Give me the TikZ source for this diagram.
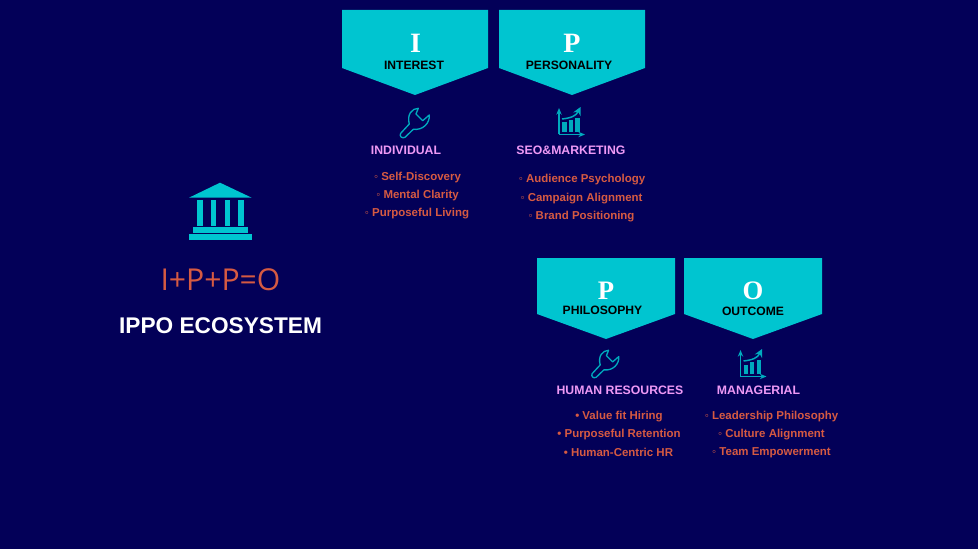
\documentclass[tikz,border=0pt]{standalone}
\usepackage{fontspec}
\usepackage{xcolor}
\setmainfont{Liberation Sans}
\newfontfamily\letterfont{Liberation Serif}
\newfontfamily\formulafont{Open Sans}
\definecolor{deepnavy}{RGB}{3, 0, 88}
\definecolor{bannerteal}{RGB}{0, 197, 208}
\definecolor{icontile}{RGB}{0, 170, 190}
\definecolor{labelpink}{RGB}{238, 153, 245}
\definecolor{itemorange}{RGB}{214, 90, 66}
\usetikzlibrary{arrows.meta}

\begin{document}
\begin{tikzpicture}[
    x=0.75pt,y=-0.75pt,
    banner/.style={fill=bannerteal},
    letter/.style={font=\letterfont\fontsize{21}{22}\selectfont\bfseries,text=white,inner sep=0pt},
    smallletter/.style={font=\letterfont\fontsize{20}{21}\selectfont\bfseries,text=white,inner sep=0pt},
    word/.style={font=\fontsize{9.1}{11}\selectfont\bfseries,text=black,inner sep=0pt},
    area/.style={font=\fontsize{9.2}{11}\selectfont\bfseries,text=labelpink,inner sep=0pt},
    item/.style={font=\fontsize{8.6}{10}\selectfont\bfseries,text=itemorange,inner sep=0pt,text height=8.4pt,text depth=2pt},
    wrench/.pic={
        \draw[icontile,line width=1pt,line join=round]
            (3.3,-14.7) -- (1,-9) -- (7.7,-2.3) -- (14.3,-8)
            .. controls (15,0) and (8,7.5) .. (-1.7,6.3)
            -- (-10,14.3) .. controls (-13,16) and (-16,13) .. (-14.3,10.3)
            -- (-5.7,1) .. controls (-8.3,-8) and (-3.3,-14.7) .. cycle;
    },
    chart/.pic={
        \draw[icontile,line width=1.1pt,-{Stealth[length=5pt,width=4pt]}] (-12,12.5) -- (-12,-14);
        \draw[icontile,line width=1.1pt,-{Stealth[length=5pt,width=4pt]}] (-12,12.5) -- (14,12.5);
        \fill[icontile] (-9,10) rectangle (-4.5,0.5);
        \fill[icontile] (-2.5,10) rectangle (1.5,-2);
        \fill[icontile] (4,10) rectangle (8.5,-4);
        \draw[icontile,line width=1.1pt,-{Stealth[length=6pt,width=6pt]}] (-9,-3) .. controls (0,-4) and (5,-6) .. (9.5,-15);
    }
]
    % Background
    \fill[deepnavy] (0,0) rectangle (978,549);
    \useasboundingbox (0,0) rectangle (978,549);

    % Temple
    \fill[bannerteal] (220,182.7) -- (251.7,197.7) -- (189,197.7) -- cycle;
    \fill[bannerteal] (197.3,200) rectangle (202.7,225.7);
    \fill[bannerteal] (211,200) rectangle (216.3,225.7);
    \fill[bannerteal] (224.7,200) rectangle (230,225.7);
    \fill[bannerteal] (238.3,200) rectangle (244,225.7);
    \fill[bannerteal] (193.3,227) rectangle (247.7,232.7);
    \fill[bannerteal] (189,234) rectangle (251.7,240);

    \node[font=\formulafont\fontsize{22.6}{24}\selectfont,text=itemorange,inner sep=0pt] (formula) at (220.5,280) {I+P+P=O};
    \node[font=\fontsize{17}{20}\selectfont\bfseries,text=white,inner sep=0pt] (title) at (220.5,326) {IPPO ECOSYSTEM};

    % Interest
    \fill[banner] (342,10) -- (488,10) -- (488,68) -- (415,95) -- (342,68) -- cycle;
    \node[letter] (letterI) at (415.5,43.5) {I};
    \node[word] (interest) at (414,65) {INTEREST};
    \pic at (415,123) {wrench};
    \node[area] (individual) at (406,150.5) {INDIVIDUAL};
    \node[item] (selfdisc) at (417.5,176) {◦ Self-Discovery};
    \node[item] (mental) at (417.5,194) {◦ Mental Clarity};
    \node[item] (living) at (417,212.5) {◦ Purposeful Living};

    % Personality
    \fill[banner] (499,10) -- (645,10) -- (645,68) -- (572,95) -- (499,68) -- cycle;
    \node[letter] (letterP) at (572,43) {P};
    \node[word] (personality) at (569,65) {PERSONALITY};
    \pic at (571,122) {chart};
    \node[area] (seo) at (571,150.5) {SEO\&MARKETING};
    \node[item] (audience) at (582,178) {◦ Audience Psychology};
    \node[item] (campaign) at (581.5,197) {◦ Campaign Alignment};
    \node[item] (brand) at (581.5,215) {◦ Brand Positioning};

    % Philosophy
    \fill[banner] (537,258) -- (675,258) -- (675,314) -- (606,339) -- (537,314) -- cycle;
    \node[smallletter] (letterPh) at (606,290.5) {P};
    \node[word] (philosophy) at (602.5,310) {PHILOSOPHY};
    \pic[scale=0.93] at (605.5,364) {wrench};
    \node[area] (human) at (620,390.5) {HUMAN RESOURCES};
    \node[item] (value) at (619,415) {• Value fit Hiring};
    \node[item] (retention) at (619,433) {• Purposeful Retention};
    \node[item] (centric) at (618.5,452) {• Human-Centric HR};

    % Outcome
    \fill[banner] (684,258) -- (822,258) -- (822,314) -- (753,339) -- (684,314) -- cycle;
    \node[smallletter] (letterO) at (753,290.5) {O};
    \node[word] (outcome) at (753,311) {OUTCOME};
    \pic at (752.5,364) {chart};
    \node[area] (managerial) at (758.5,390.5) {MANAGERIAL};
    \node[item] (leadership) at (771.5,415) {◦ Leadership Philosophy};
    \node[item] (culture) at (771.5,433) {◦ Culture Alignment};
    \node[item] (team) at (771.5,451) {◦ Team Empowerment};
\end{tikzpicture}
\end{document}
